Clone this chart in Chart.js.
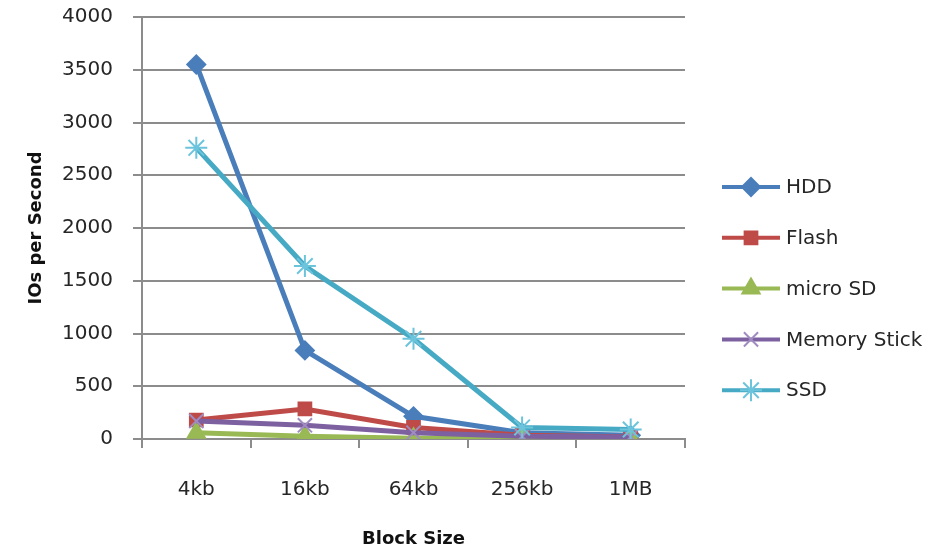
<!DOCTYPE html>
<html>
<head>
<meta charset="utf-8">
<script src="https://cdn.jsdelivr.net/npm/chart.js@4/dist/chart.umd.min.js"></script>
<style>
  html, body { margin: 0; padding: 0; background: #ffffff; }
  #wrap { width: 948px; height: 554px; }
</style>
</head>
<body>
<div id="wrap"><canvas id="chart" width="948" height="554"></canvas></div>
<script>
// Block sizes tested
const blockSizes = ['4kb', '16kb', '64kb', '256kb', '1MB'];

// IOs per second for each device
const hdd = [3550, 840, 215, 60, 35];
const flash = [180, 285, 110, 35, 20];
const microSd = [60, 25, 8, 5, 5];
const memoryStick = [170, 130, 60, 25, 20];
const ssd = [2760, 1640, 950, 110, 90];

const yTicks = [0, 500, 1000, 1500, 2000, 2500, 3000, 3500, 4000];

const FONT = 'DejaVu Sans';
const TEXT = '#262626';
const GRID = '#8c8c8c';

function series(label, data, color, marker, pointStyle, radius, order) {
  return {
    label, data,
    borderColor: color,
    backgroundColor: marker,
    pointBackgroundColor: marker,
    pointBorderColor: marker,
    pointStyle,
    pointRadius: radius,
    pointHoverRadius: radius,
    pointBorderWidth: 2,
    borderWidth: 5,
    tension: 0,
    order
  };
}

const datasets = [
  series('HDD', hdd, '#4a7ebb', '#4a7ebb', 'rectRot', 9, 5),
  series('Flash', flash, '#be4b48', '#be4b48', 'rect', 9, 4),
  series('micro SD', microSd, '#98b954', '#98b954', 'triangle', 10, 3),
  series('Memory Stick', memoryStick, '#7d60a0', '#a08cc0', 'crossRot', 10, 2),
  series('SSD', ssd, '#46aac5', '#6cc4dc', 'star', 11, 1)
];

// Legend drawn as a line segment with the series marker on it
const lineLegend = {
  id: 'lineLegend',
  afterDraw(chart) {
    const ctx = chart.ctx;
    const x0 = 722, x1 = 780, firstY = 187, step = 50.8;
    ctx.save();
    chart.data.datasets.forEach((ds, i) => {
      const y = firstY + i * step;
      ctx.strokeStyle = ds.borderColor;
      ctx.lineWidth = 4;
      ctx.beginPath();
      ctx.moveTo(x0, y);
      ctx.lineTo(x1, y);
      ctx.stroke();
      ctx.fillStyle = ds.pointBackgroundColor;
      ctx.strokeStyle = ds.pointBorderColor;
      ctx.lineWidth = 2;
      Chart.helpers.drawPoint(ctx, {
        pointStyle: ds.pointStyle,
        radius: ds.pointRadius,
        borderWidth: 2,
        rotation: 0
      }, (x0 + x1) / 2, y);
      ctx.fillStyle = TEXT;
      ctx.font = '20px "' + FONT + '"';
      ctx.textAlign = 'left';
      ctx.textBaseline = 'middle';
      ctx.fillText(ds.label, x1 + 6, y + 1);
    });
    ctx.restore();
  }
};

new Chart(document.getElementById('chart'), {
  type: 'line',
  data: { labels: blockSizes, datasets },
  options: {
    responsive: false,
    animation: false,
    devicePixelRatio: 1,
    layout: { padding: { left: 22, right: 263, top: 0, bottom: 0 } },
    plugins: {
      legend: { display: false },
      tooltip: { enabled: false }
    },
    scales: {
      x: {
        offset: true,
        grid: {
          offset: true,
          drawOnChartArea: false,
          drawTicks: true,
          tickLength: 9,
          color: GRID,
          lineWidth: 2
        },
        border: { display: true, color: GRID, width: 2 },
        ticks: {
          color: TEXT,
          font: { family: FONT, size: 20 },
          padding: 30,
          maxRotation: 0
        },
        title: {
          display: true,
          text: 'Block Size',
          color: '#111',
          font: { family: FONT, size: 18, weight: 'bold' },
          padding: { top: 4, bottom: 4 }
        },
        afterFit(scale) { scale.height = 115; }
      },
      y: {
        min: 0,
        max: 4000,
        afterBuildTicks(scale) { scale.ticks = yTicks.map(v => ({ value: v })); },
        grid: {
          color: GRID,
          lineWidth: 2,
          tickLength: 9
        },
        border: { display: true, color: GRID, width: 2 },
        ticks: {
          color: TEXT,
          font: { family: FONT, size: 20 },
          padding: 20,
          callback: (v) => String(v)
        },
        title: {
          display: true,
          text: 'IOs per Second',
          color: '#111',
          font: { family: FONT, size: 18, weight: 'bold' },
          padding: { top: 4, bottom: 4 }
        },
        afterFit(scale) {
          scale.width = 120;
          scale.paddingTop = 17;
          scale.paddingBottom = 0;
        }
      }
    }
  },
  plugins: [lineLegend]
});
</script>
</body>
</html>
